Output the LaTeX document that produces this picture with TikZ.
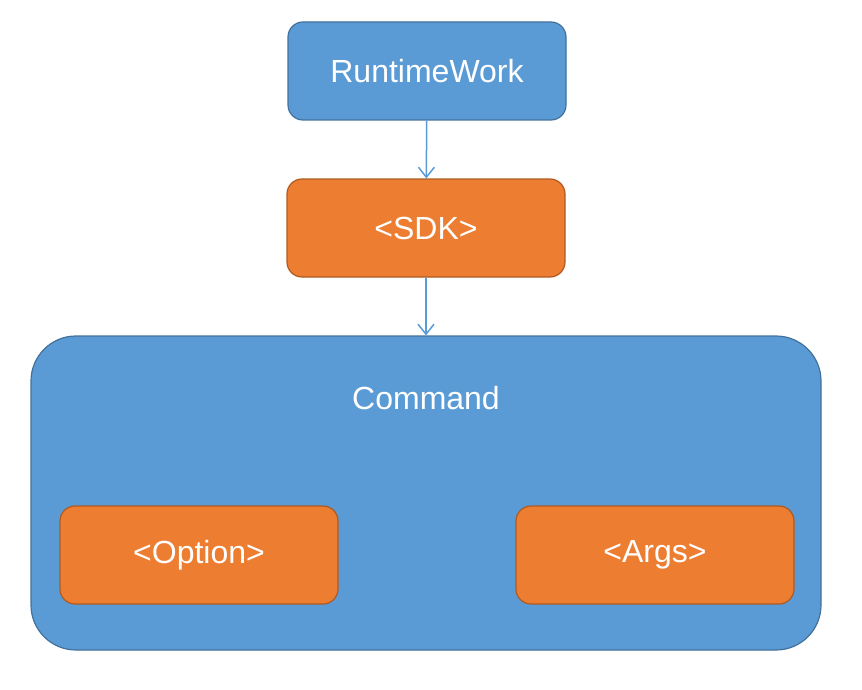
\documentclass[tikz,border=0pt]{standalone}
\usepackage{fontspec}
\setmainfont{Liberation Sans}
\usetikzlibrary{arrows.meta,positioning}
\definecolor{boxblue}{HTML}{5B9BD5}
\definecolor{lineblue}{HTML}{41719C}
\definecolor{boxorange}{HTML}{ED7D31}
\definecolor{lineorange}{HTML}{AE5A21}

\begin{document}
\begin{tikzpicture}[x=1pt, y=-1pt, semithick,
	box/.style={rounded corners=15pt, minimum width=278pt, minimum height=98pt, line width=1.2pt, text=white, font=\fontsize{32}{36}\selectfont},
	bluebox/.style={box, fill=boxblue, draw=lineblue},
	orangebox/.style={box, fill=boxorange, draw=lineorange},
	link/.style={-{Straight Barb[length=10pt,width=16pt]}, draw=boxblue, line width=1.5pt}]
	\useasboundingbox (0,0) rectangle (862,690);
	\node[bluebox, rounded corners=45pt, minimum width=790pt, minimum height=314pt] (cmd) at (426,493) {};
	\node[text=white, font=\fontsize{32}{36}\selectfont] (cmdlabel) at (426,398) {Command};
	\node[bluebox]   (rt)  at (427,71)  {RuntimeWork};
	\node[orangebox] (sdk) at (426,228) {<SDK>};
	\node[orangebox] (opt) at (199,555) {<Option>};
	\node[orangebox] (arg) at (655,555) {<Args>};
	\draw[link] (rt) -- (sdk);
	\draw[link] (sdk) -- (cmd);
\end{tikzpicture}
\end{document}
